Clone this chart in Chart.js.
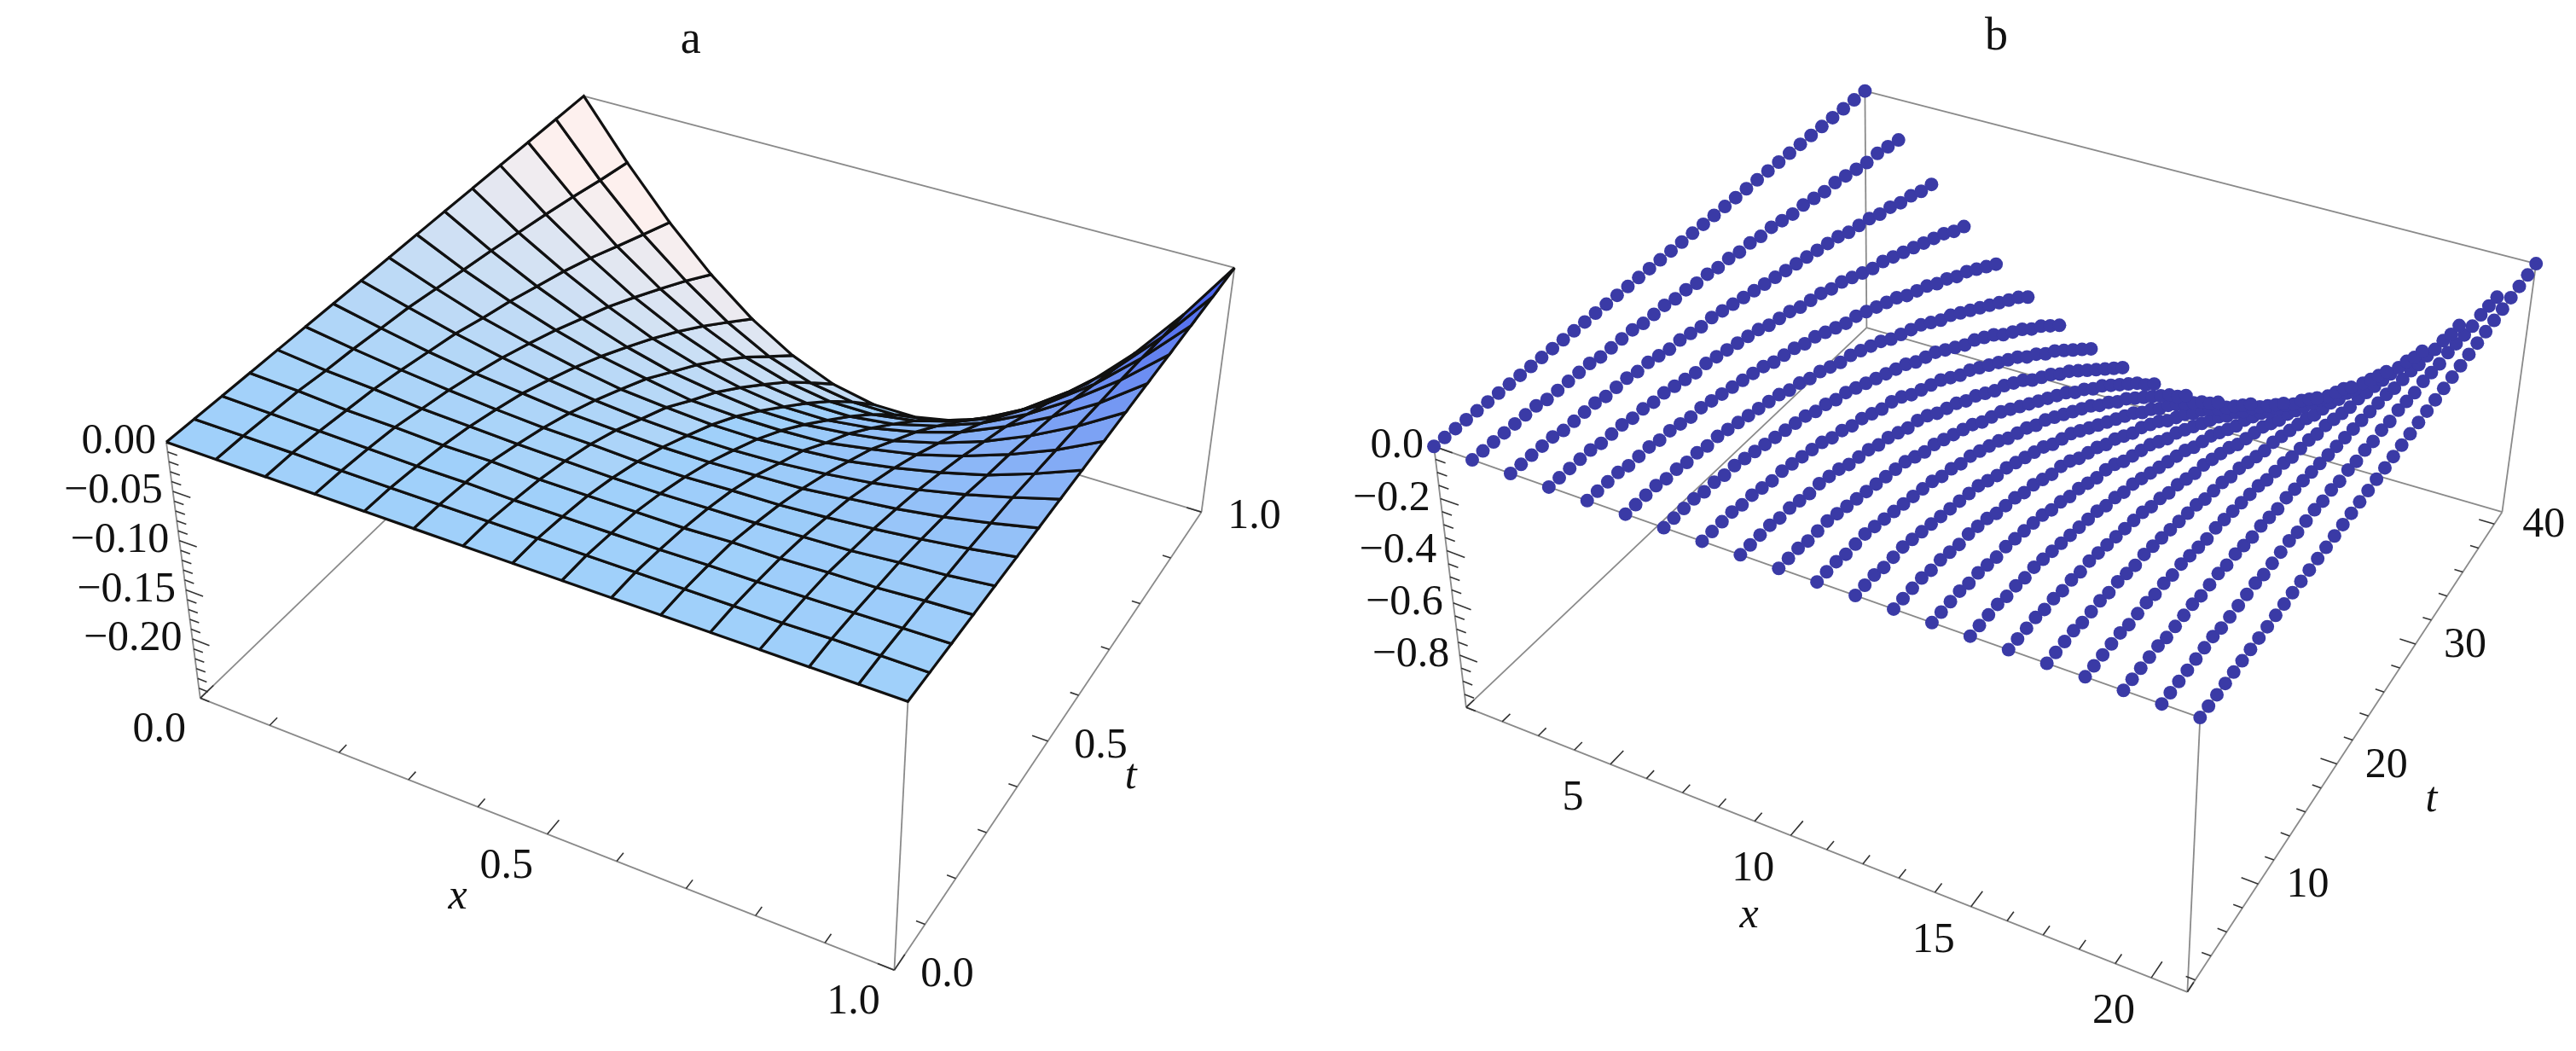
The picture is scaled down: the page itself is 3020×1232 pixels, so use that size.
<!DOCTYPE html>
<html><head><meta charset="utf-8">
<script src="https://cdn.jsdelivr.net/npm/chart.js@4/dist/chart.umd.min.js"></script>
<style>html,body{margin:0;padding:0;background:#fff}#w{width:3020px;height:1232px}</style>
</head><body><div id="w"><canvas id="c"></canvas></div>
<script>
// ---------- Panel a data: surface grid (x, t), z in thousandths ----------
const aX = [0,1/15,2/15,3/15,4/15,5/15,6/15,7/15,8/15,9/15,10/15,11/15,12/15,13/15,14/15,1];
const aT = [0,1/15,2/15,3/15,4/15,5/15,6/15,7/15,8/15,9/15,10/15,11/15,12/15,13/15,14/15,1];
const aZ = [ // rows: t index, columns: x index
[0,0,0,0,0,0,0,0,0,0,0,0,0,0,0,0],
[0,0,0,-1,-1,-1,-1,-1,-1,-1,-1,-1,-1,0,0,0],
[0,-1,-2,-3,-4,-4,-5,-5,-5,-5,-4,-4,-3,-2,-1,0],
[0,-2,-5,-6,-8,-8,-10,-10,-10,-10,-8,-8,-6,-5,-2,0],
[0,-5,-8,-12,-14,-16,-17,-18,-18,-17,-16,-14,-12,-8,-5,0],
[0,-7,-13,-18,-22,-25,-26,-28,-28,-26,-25,-22,-18,-13,-7,0],
[0,-10,-19,-26,-31,-36,-38,-40,-40,-38,-36,-31,-26,-19,-10,0],
[0,-13,-25,-35,-43,-49,-53,-55,-55,-53,-49,-43,-35,-25,-13,0],
[0,-18,-34,-46,-56,-64,-68,-71,-71,-68,-64,-56,-46,-34,-18,0],
[0,-23,-42,-58,-71,-80,-88,-90,-90,-88,-80,-71,-58,-42,-23,0],
[0,-28,-52,-72,-88,-100,-107,-112,-112,-107,-100,-88,-72,-52,-28,0],
[0,-34,-62,-86,-106,-120,-130,-136,-136,-130,-120,-106,-86,-62,-34,0],
[0,-40,-74,-103,-126,-143,-155,-161,-161,-155,-143,-126,-103,-74,-40,0],
[0,-47,-88,-121,-148,-168,-181,-188,-188,-181,-168,-148,-121,-88,-47,0],
[0,-55,-102,-140,-172,-196,-211,-218,-218,-211,-196,-172,-140,-102,-55,0],
[0,-62,-116,-161,-197,-224,-242,-251,-251,-242,-224,-197,-161,-116,-62,0]];
const aZTicks = [0,-0.05,-0.10,-0.15,-0.20];
const aZLabels = ["0.00","\u22120.05","\u22120.10","\u22120.15","\u22120.20"];
const aXTicks = [0,0.5,1], aXLabels = ["0.0","0.5","1.0"];
const aTTicks = [0,0.5,1], aTLabels = ["0.0","0.5","1.0"];

// ---------- Panel b data: point lines (one per x), z in hundredths (negative) ----------
const bX = [1,2,3,4,5,6,7,8,9,10,11,12,13,14,15,16,17,18,19,20,21];
const bT = [1,2,3,4,5,6,7,8,9,10,11,12,13,14,15,16,17,18,19,20,21,22,23,24,25,26,27,28,29,30,31,32,33,34,35,36,37,38,39,40,41];
const bZ = [ // rows: x index, columns: t index
[0,0,0,0,0,0,0,0,0,0,0,0,0,0,0,0,0,0,0,0,0,0,0,0,0,0,0,0,0,0,0,0,0,0,0,0,0,0,0,0,0],
[0,0,0,0,0,0,0,1,1,1,1,1,2,2,2,2,3,3,3,4,4,5,5,6,6,7,7,8,8,9,10,10,11,12,12,13,14,15,15,16,17],
[0,0,0,0,0,1,1,1,1,2,2,2,3,3,4,5,5,6,7,7,8,9,10,11,12,13,14,15,16,17,18,19,21,22,23,25,26,28,29,31,32],
[0,0,0,0,0,1,1,1,2,2,3,3,4,5,6,6,7,8,9,10,11,13,14,15,17,18,19,21,22,24,26,28,29,31,33,35,37,39,41,44,46],
[0,0,0,0,1,1,1,2,2,3,4,4,5,6,7,8,9,10,12,13,14,16,17,19,21,23,24,26,28,30,32,35,37,39,42,44,47,49,52,55,58],
[0,0,0,0,1,1,2,2,3,3,4,5,6,7,8,9,11,12,14,15,17,19,20,22,24,26,29,31,33,35,38,41,43,46,49,52,55,58,61,64,68],
[0,0,0,0,1,1,2,2,3,4,5,6,7,8,9,11,12,14,15,17,19,21,23,25,27,30,32,34,37,40,43,45,48,51,55,58,61,65,68,72,76],
[0,0,0,0,1,1,2,3,3,4,5,6,7,9,10,12,13,15,17,18,20,23,25,27,29,32,35,37,40,43,46,49,52,56,59,63,66,70,74,78,82],
[0,0,0,0,1,1,2,3,3,4,5,7,8,9,11,12,14,16,17,19,22,24,26,29,31,34,37,39,42,45,49,52,55,59,62,66,70,74,78,82,86],
[0,0,0,1,1,1,2,3,4,5,6,7,8,9,11,13,14,16,18,20,22,25,27,29,32,35,38,41,44,47,50,54,57,61,64,68,72,76,80,85,89],
[0,0,0,1,1,1,2,3,4,5,6,7,8,10,11,13,14,16,18,20,23,25,27,30,32,35,38,41,44,47,51,54,58,61,65,69,73,77,81,86,90],
[0,0,0,1,1,1,2,3,4,5,6,7,8,9,11,13,14,16,18,20,22,25,27,29,32,35,38,41,44,47,50,54,57,61,64,68,72,76,80,85,89],
[0,0,0,0,1,1,2,3,3,4,5,7,8,9,11,12,14,16,17,19,22,24,26,29,31,34,37,39,42,45,49,52,55,59,62,66,70,74,78,82,86],
[0,0,0,0,1,1,2,3,3,4,5,6,7,9,10,12,13,15,17,18,20,23,25,27,29,32,35,37,40,43,46,49,52,56,59,63,66,70,74,78,82],
[0,0,0,0,1,1,2,2,3,4,5,6,7,8,9,11,12,14,15,17,19,21,23,25,27,30,32,34,37,40,43,45,48,51,55,58,61,65,68,72,76],
[0,0,0,0,1,1,2,2,3,3,4,5,6,7,8,9,11,12,14,15,17,19,20,22,24,26,29,31,33,35,38,41,43,46,49,52,55,58,61,64,68],
[0,0,0,0,1,1,1,2,2,3,4,4,5,6,7,8,9,10,12,13,14,16,17,19,21,23,24,26,28,30,32,35,37,39,42,44,47,49,52,55,58],
[0,0,0,0,0,1,1,1,2,2,3,3,4,5,6,6,7,8,9,10,11,13,14,15,17,18,19,21,22,24,26,28,29,31,33,35,37,39,41,44,46],
[0,0,0,0,0,1,1,1,1,2,2,2,3,3,4,5,5,6,7,7,8,9,10,11,12,13,14,15,16,17,18,19,21,22,23,25,26,28,29,31,32],
[0,0,0,0,0,0,0,1,1,1,1,1,2,2,2,2,3,3,3,4,4,5,5,6,6,7,7,8,8,9,10,10,11,12,12,13,14,15,15,16,17],
[0,0,0,0,0,0,0,0,0,0,0,0,0,0,0,0,0,0,0,0,0,0,0,0,0,0,0,0,0,0,0,0,0,0,0,0,0,0,0,0,0]];
const bZTicks = [0,-0.2,-0.4,-0.6,-0.8];
const bZLabels = ["0.0","\u22120.2","\u22120.4","\u22120.6","\u22120.8"];
const bXTicks = [5,10,15,20], bXLabels = ["5","10","15","20"];
const bTTicks = [10,20,30,40], bTLabels = ["10","20","30","40"];

// ---------- projection (box corners on screen) ----------
function makeProj(top, bot, xr, tr, zr) {
  return function (x, t, z) {
    const u = (x - xr[0]) / (xr[1] - xr[0]), v = (t - tr[0]) / (tr[1] - tr[0]), w = (z - zr[0]) / (zr[1] - zr[0]);
    const bl = c => {
      const k = [(1-u)*(1-v), u*(1-v), u*v, (1-u)*v];
      return [k[0]*c[0][0]+k[1]*c[1][0]+k[2]*c[2][0]+k[3]*c[3][0], k[0]*c[0][1]+k[1]*c[1][1]+k[2]*c[2][1]+k[3]*c[3][1]];
    };
    const p = bl(top), q = bl(bot);
    return { x: q[0] + w * (p[0] - q[0]), y: q[1] + w * (p[1] - q[1]) };
  };
}
const PA = { xr:[0,1], tr:[0,1], zr:[-0.26,0] };
PA.P = makeProj([[188,517],[1062,825],[1447,310],[680,106]], [[228,821],[1046,1144],[1408,600],[683,379]], PA.xr, PA.tr, PA.zr);
const PB = { xr:[1,21], tr:[1,41], zr:[-1,0] };
PB.P = makeProj([[1682,522],[2585,844],[2981,305],[2190,100]], [[1720,832],[2570,1170],[2941,600],[2192,381]], PB.xr, PB.tr, PB.zr);

// ---------- datasets ----------
const datasets = [];
function mix(c1, c2, f) { return 'rgb(' + c1.map((v, i) => Math.round(v + (c2[i] - v) * f)).join(',') + ')'; }
const base = [160, 208, 250], white = [253, 240, 238], deep = [72, 96, 236];
const cells = [];
for (let j = 0; j < aT.length - 1; j++) for (let i = 0; i < aX.length - 1; i++) {
  const z00 = aZ[j][i] / 1000, z10 = aZ[j][i+1] / 1000, z11 = aZ[j+1][i+1] / 1000, z01 = aZ[j+1][i] / 1000;
  const dzu = ((z10 + z11) - (z00 + z01)) / 2 / (aX[i+1] - aX[i]) / 0.26;
  const dzv = ((z01 + z11) - (z00 + z10)) / 2 / (aT[j+1] - aT[j]) / 0.26;
  let col;
  if (dzu < 0) col = mix(base, white, Math.min(1, -dzu / 3 + Math.max(0, -dzv) / 8));
  else col = mix(base, deep, Math.min(1, dzu / 3.6));
  const pts = [[aX[i],aT[j],z00],[aX[i+1],aT[j],z10],[aX[i+1],aT[j+1],z11],[aX[i],aT[j+1],z01],[aX[i],aT[j],z00]].map(p => PA.P(p[0], p[1], p[2]));
  cells.push({ key: (aX[i] + aX[i+1]) / 2 - (aT[j] + aT[j+1]) / 2, pts, col });
}
cells.sort((a, b) => a.key - b.key);
cells.forEach(c => datasets.push({ data: c.pts, showLine: true, fill: 'shape', backgroundColor: c.col, borderColor: '#111', borderWidth: 3.2, pointRadius: 0, tension: 0 }));

bX.forEach((x, i) => {
  datasets.push({ data: bT.map((t, j) => PB.P(x, t, -bZ[i][j] / 100)), showLine: false, pointRadius: 8, pointBorderWidth: 0, pointBackgroundColor: '#3a3aa6', backgroundColor: '#3a3aa6' });
});

// ---------- decorations: box, ticks, labels ----------
function boxPlugin(S, sp) {
  return function (chart, layer) {
    const ctx = chart.ctx, xs = chart.scales.x, ys = chart.scales.y;
    const px = p => [xs.getPixelForValue(p.x), ys.getPixelForValue(p.y)];
    const P = (x, t, z) => px(S.P(x, t, z));
    const [x0, x1] = S.xr, [t0, t1] = S.tr, [z0, z1] = S.zr;
    ctx.save();
    if (layer === 'back') {
      ctx.strokeStyle = '#8a8a8a'; ctx.lineWidth = 1.8;
      const C = (a, b, c) => P(a ? x1 : x0, b ? t1 : t0, c ? z1 : z0);
      const edges = [[0,0,0,1,0,0],[1,0,0,1,1,0],[1,1,0,0,1,0],[0,1,0,0,0,0],[0,0,1,1,0,1],[1,0,1,1,1,1],[1,1,1,0,1,1],[0,1,1,0,0,1],[0,0,0,0,0,1],[1,0,0,1,0,1],[1,1,0,1,1,1],[0,1,0,0,1,1]];
      edges.forEach(e => { const a = C(e[0],e[1],e[2]), b = C(e[3],e[4],e[5]); ctx.beginPath(); ctx.moveTo(a[0],a[1]); ctx.lineTo(b[0],b[1]); ctx.stroke(); });
      ctx.strokeStyle = '#333'; ctx.lineWidth = 1.6;
      const tick = (a, b) => { ctx.beginPath(); ctx.moveTo(a[0],a[1]); ctx.lineTo(b[0],b[1]); ctx.stroke(); };
      for (let k = 0; k <= sp.zMinorN; k++) { const z = z1 - k * sp.zMinor; if (z < z0 - 1e-9) break; const maj = sp.zTicks.some(v => Math.abs(v - z) < 1e-9); tick(P(x0, t0, z), P(x0 + (x1-x0) * (maj ? 0.024 : 0.013), t0, z)); }
      for (let x = sp.xMinorStart; x <= x1 + 1e-9; x += sp.xMinor) { const maj = sp.xTicks.some(v => Math.abs(v - x) < 1e-9); tick(P(x, t0, z0), P(x, t0 + (t1-t0) * (maj ? 0.034 : 0.02), z0)); }
      for (let t = sp.tMinorStart; t <= t1 + 1e-9; t += sp.tMinor) { const maj = sp.tTicks.some(v => Math.abs(v - t) < 1e-9); tick(P(x1, t, z0), P(x1 - (x1-x0) * (maj ? 0.024 : 0.013), t, z0)); }
    } else {
      ctx.fillStyle = '#111'; ctx.textBaseline = 'middle';
      ctx.font = '50px "Liberation Serif", serif';
      ctx.textAlign = 'right';
      sp.zTicks.forEach((z, k) => { const p = P(x0, t0, z); ctx.fillText(sp.zLabels[k], p[0] - 12, p[1]); });
      ctx.textAlign = 'center';
      sp.xTicks.forEach((x, k) => { const p = P(x, t0, z0); ctx.fillText(sp.xLabels[k], p[0] + sp.xOff[0], p[1] + sp.xOff[1]); });
      sp.tTicks.forEach((t, k) => { const p = P(x1, t, z0); ctx.fillText(sp.tLabels[k], p[0] + sp.tOff[0], p[1] + sp.tOff[1]); });
      ctx.font = 'italic 50px "Liberation Serif", serif';
      let p = P(sp.xName, t0, z0); ctx.fillText('x', p[0] + sp.xNameOff[0], p[1] + sp.xNameOff[1]);
      p = P(x1, sp.tName, z0); ctx.fillText('t', p[0] + sp.tNameOff[0], p[1] + sp.tNameOff[1]);
      ctx.font = '54px "Liberation Serif", serif';
      ctx.fillText(sp.title, xs.getPixelForValue(sp.titleAt[0]), ys.getPixelForValue(sp.titleAt[1]));
    }
    ctx.restore();
  };
}
const drawA = boxPlugin(PA, { zTicks: aZTicks, zLabels: aZLabels, zMinor: 0.01, zMinorN: 26, xTicks: aXTicks, xLabels: aXLabels, xMinor: 0.1, xMinorStart: 0, tTicks: aTTicks, tLabels: aTLabels, tMinor: 0.1, tMinorStart: 0,
  xOff: [-48, 38], tOff: [62, 6], xName: 0.42, xNameOff: [-40, 100], tName: 0.47, tNameOff: [108, 26], title: 'a', titleAt: [806, 40] });
const drawB = boxPlugin(PB, { zTicks: bZTicks, zLabels: bZLabels, zMinor: 0.05, zMinorN: 20, xTicks: bXTicks, xLabels: bXLabels, xMinor: 1, xMinorStart: 1, tTicks: bTTicks, tLabels: bTLabels, tMinor: 2, tMinorStart: 2,
  xOff: [-44, 40], tOff: [58, 2], xName: 9.7, xNameOff: [-36, 100], tName: 19, tNameOff: [120, 28], title: 'b', titleAt: [2345, 36] });

new Chart(document.getElementById('c'), {
  type: 'line',
  data: { datasets },
  options: {
    animation: false, responsive: true, maintainAspectRatio: false, devicePixelRatio: 1,
    layout: { padding: 0 },
    plugins: { legend: { display: false }, tooltip: { enabled: false } },
    scales: {
      x: { type: 'linear', min: 0, max: 3020, display: false },
      y: { type: 'linear', min: 0, max: 1232, reverse: true, display: false }
    }
  },
  plugins: [{ id: 'deco',
    beforeDatasetsDraw(chart) { drawA(chart, 'back'); drawB(chart, 'back'); },
    afterDatasetsDraw(chart) { drawA(chart, 'front'); drawB(chart, 'front'); } }]
});
</script></body></html>
